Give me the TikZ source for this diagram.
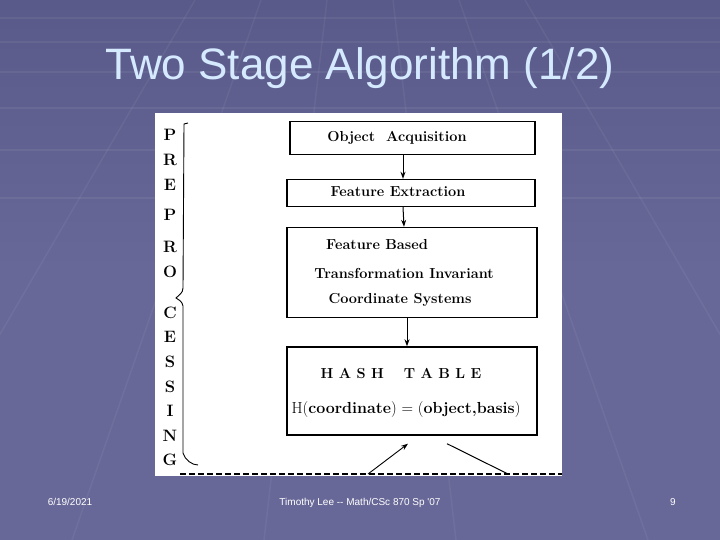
\documentclass[tikz,border=0pt]{standalone}
\usepackage{fontspec}
\newfontfamily\slidefont{Liberation Sans}
\usetikzlibrary{arrows.meta}

\definecolor{slidebg}{RGB}{104,104,152}
\definecolor{slidetop}{RGB}{90,90,138}
\definecolor{titleblue}{RGB}{214,234,255}

\tikzset{
  box/.style={draw, line width=1.4pt, rectangle, inner sep=0pt},
  boxtext/.style={font=\bfseries\fontsize{14.5}{17}\selectfont},
  sideletter/.style={font=\bfseries\fontsize{16.5}{18}\selectfont},
  arr/.style={-{Stealth[length=7pt,width=5pt]}, line width=1pt},
  footer/.style={text=white, anchor=base, font=\slidefont\fontsize{10}{12}\selectfont}
}

\begin{document}
\begin{tikzpicture}[x=1pt, y=-1pt]
  \useasboundingbox (0,0) rectangle (720,540);
  % slide background
  \shade[top color=slidetop, bottom color=slidebg, middle color=slidebg] (0,0) rectangle (720,540);
  \foreach \y in {18,42,72,108,150,198} {
    \draw[white, opacity=0.06, line width=1.5pt] (0,\y) -- (720,\y);
  }
  \foreach \x in {-300,-180,-60,60,180,300} {
    \draw[white, opacity=0.05, line width=1.5pt] (360+\x*0.55,0) -- (360+\x*1.6,540);
  }

  % title
  \node[text=titleblue, font=\slidefont\fontsize{44}{48}\selectfont] (title) at (360,68) {Two Stage Algorithm (1/2)};

  % scanned figure
  \fill[white] (155,113) rectangle (562,476);

  \node[box, minimum width=245pt, minimum height=33pt] (oa) at (412.5,138) {};
  \node[boxtext] (oatext) at (397,138) {Object\ \ Acquisition};
  \node[box, minimum width=248pt, minimum height=27pt] (fe) at (411,193) {};
  \node[boxtext] (fetext) at (398,192) {Feature Extraction};
  \node[box, minimum width=250pt, minimum height=90pt] (fb) at (412,272.5) {};
  \node[boxtext] (fb1) at (377,245) {Feature Based};
  \node[boxtext] (fb2) at (404,273) {Transformation Invariant};
  \node[boxtext] (fb3) at (400,300) {Coordinate Systems};
  \node[box, minimum width=250pt, minimum height=88pt] (ht) at (412,391) {};
  \node[boxtext] (ht1) at (401,374) {H\ A\ S\ H\quad\ T\ A\ B\ L\ E};
  \node[font=\fontsize{16}{18}\selectfont] (ht2) at (406,410) {H(\textbf{coordinate}) = (\textbf{object,basis})};

  \draw[arr] ([xshift=-9.5pt]oa.south) -- ([xshift=-8pt]fe.north);
  \draw[arr] ([xshift=-8pt]fe.south) -- ([xshift=-8pt]fb.north);
  \draw[arr] ([xshift=-5pt]fb.south) -- ([xshift=-5pt]ht.north);

  \coordinate (in) at (368,474);
  \coordinate (out) at (508,474);
  \draw[arr, line width=0.9pt] (in) -- ([xshift=-4pt,yshift=-8pt]ht.south);
  \draw[line width=1pt] ([xshift=35pt,yshift=-8pt]ht.south) -- (out);
  \draw[line width=1.2pt, dash pattern=on 6pt off 3pt] (180,474) -- (562,474);

  % side label
  \foreach \l/\y in {P/135,R/160,E/185,P/215,R/247,O/272,C/313,E/337,S/362,S/387,I/411,N/436,G/460} {
    \node[sideletter] at (170,\y) {\l};
  }
  \draw[line width=0.9pt] (188,123) -- (184,124) -- (183,288) .. controls (183,293) and (179,295) .. (176,298)
    .. controls (179,300) and (182,301) .. (183,306) -- (183,453) .. controls (185,460) and (192,465) .. (198,465);

  % footer
  \node[footer] (date) at (70,505) {6/19/2021};
  \node[footer] (author) at (360,505) {Timothy Lee -- Math/CSc 870 Sp '07};
  \node[footer] (page) at (673,505) {9};
\end{tikzpicture}
\end{document}
